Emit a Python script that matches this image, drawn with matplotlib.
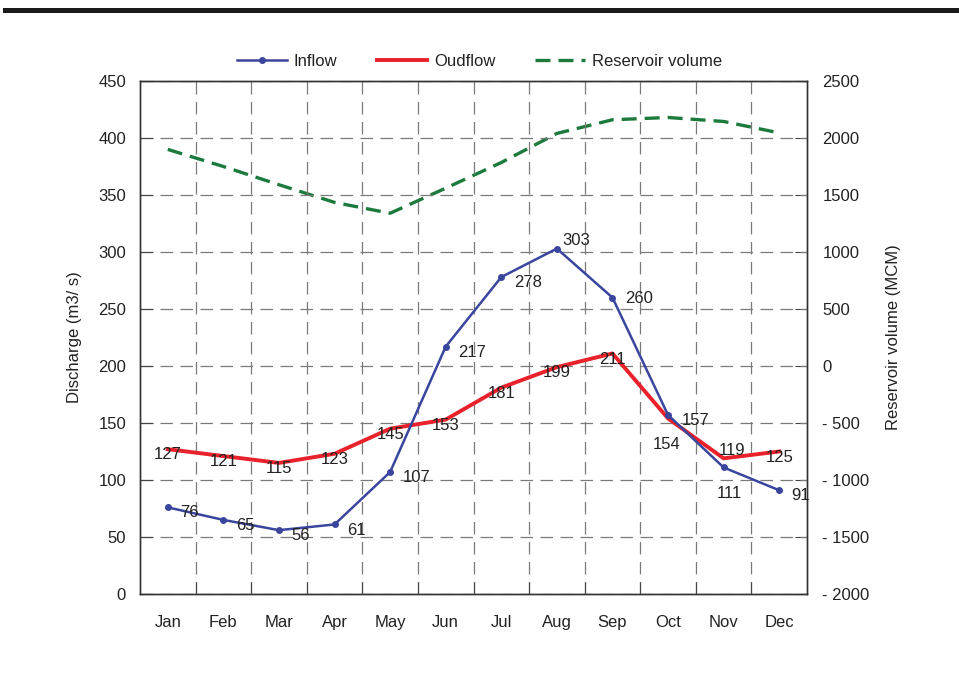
import matplotlib.pyplot as plt
from matplotlib.patches import Rectangle
from matplotlib.ticker import FixedLocator, FuncFormatter

plt.rcParams['font.family'] = ['Liberation Sans', 'DejaVu Sans']

months = ['Jan', 'Feb', 'Mar', 'Apr', 'May', 'Jun', 'Jul', 'Aug', 'Sep', 'Oct', 'Nov', 'Dec']
inflow = [76, 65, 56, 61, 107, 217, 278, 303, 260, 157, 111, 91]
outflow = [127, 121, 115, 123, 145, 153, 181, 199, 211, 154, 119, 125]
volume = [1900, 1750, 1590, 1435, 1340, 1560, 1785, 2040, 2160, 2180, 2145, 2045]

# label offsets in points (dx, dy), alignment
in_off = [(9, -4)] * 12
in_off[7] = (4, 6)
in_off[8] = (9, -1)
in_off[9] = (10, -4)
in_off[10] = (4, -19)
in_ha = ['left'] * 12
in_ha[10] = 'center'
out_off = [(0, -4)] * 12
out_off[9] = (-1, -19)
out_off[10] = (6, 6)

c_in = '#3a459e'
c_out = '#e8212b'
c_vol = '#1c7a3c'
grid_c = '#7a7a7a'

fig = plt.figure(figsize=(9.59, 6.74), dpi=100)
fig.add_artist(Rectangle((0.003, 1 - 13 / 674), 0.997, 5 / 674, transform=fig.transFigure,
                         color='#1a1a1a', lw=0))
ax = fig.add_axes([140 / 959, 1 - 594 / 674, 667 / 959, 513 / 674])
ax2 = ax.twinx()

x = list(range(len(months)))
l1, = ax.plot(x, inflow, color=c_in, lw=1.8, marker='o', ms=4, zorder=3)
l2, = ax.plot(x, outflow, color=c_out, lw=2.8, zorder=2)
l3, = ax2.plot(x, volume, color=c_vol, lw=2.4, ls=(0, (4.5, 2.4)))

for i, v in enumerate(inflow):
    ax.annotate(str(v), (i, v), xytext=in_off[i], textcoords='offset points',
                ha=in_ha[i], va='center', fontsize=12, color='#222222', zorder=4)
for i, v in enumerate(outflow):
    ax.annotate(str(v), (i, v), xytext=out_off[i], textcoords='offset points',
                ha='center', va='center', fontsize=12, color='#222222', zorder=4)

ax.set_xlim(-0.5, 11.5)
ax.set_ylim(0, 450)
ax2.set_ylim(-2000, 2500)
ax.set_yticks(range(0, 451, 50))
ax2.set_yticks(range(-2000, 2501, 500))
ax2.yaxis.set_major_formatter(FuncFormatter(lambda v, p: ('- %d' % -v) if v < 0 else '%d' % v))

ax.xaxis.set_major_locator(FixedLocator([i + 0.5 for i in range(11)]))
ax.xaxis.set_minor_locator(FixedLocator(x))
ax.set_xticklabels([], minor=False)
ax.set_xticklabels(months, minor=True)
ax.tick_params(axis='x', which='major', direction='in', length=9, width=0.8, color='#444444')
ax.tick_params(axis='x', which='minor', length=0, pad=15, labelsize=12, labelcolor='#222222')
ax.tick_params(axis='y', direction='in', length=9, width=0.8, pad=10, labelsize=12,
               labelcolor='#222222', color='#444444')
ax2.tick_params(axis='y', direction='in', length=9, width=0.8, pad=11, labelsize=12,
                labelcolor='#222222', color='#444444')

ax.grid(True, which='major', color=grid_c, ls=(0, (10, 6)), lw=0.9)
for sp in ax.spines.values():
    sp.set_color('#333333')
    sp.set_linewidth(1.0)
for sp in ax2.spines.values():
    sp.set_color('#333333')
    sp.set_linewidth(1.0)
ax.set_zorder(ax2.get_zorder() + 1)
ax.patch.set_visible(False)

ax.set_ylabel('Discharge (m3/ s)', fontsize=12, color='#222222', labelpad=12)
ax2.set_ylabel('Reservoir volume (MCM)', fontsize=12, color='#222222', labelpad=12)

fig.legend([l1, l2, l3], ['Inflow', 'Oudflow', 'Reservoir volume'], loc='center',
           bbox_to_anchor=(0.5, 1 - 61 / 674), ncol=3, frameon=False, fontsize=12,
           handlelength=3.0, columnspacing=2.4, handletextpad=0.4, labelcolor='#222222')

fig.savefig('out.png', dpi=100)
